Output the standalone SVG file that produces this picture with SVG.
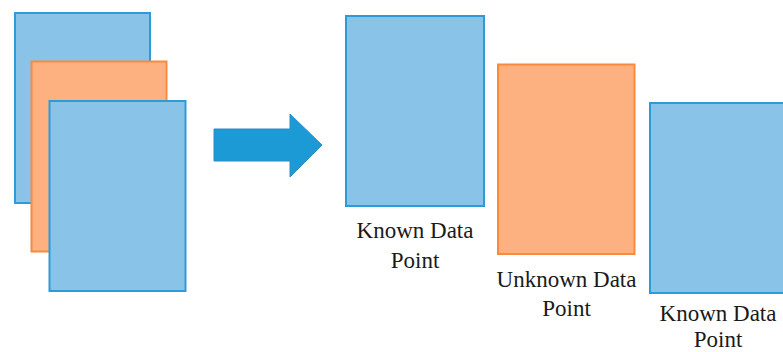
<svg xmlns="http://www.w3.org/2000/svg" width="783" height="352" viewBox="0 0 783 352">
  <style>
    .known { fill: #89c3e7; stroke: #2e9bd8; stroke-width: 2; }
    .unknown { fill: #fdb180; stroke: #fa8a3c; stroke-width: 2; }
    .label { font-family: 'Liberation Serif', 'DejaVu Serif', serif; font-size: 23px; fill: #1a1a1a; text-anchor: middle; }
  </style>
  <rect width="783" height="352" fill="#ffffff"/>

  <!-- stacked input data points -->
  <g id="stack">
    <rect id="stack-back" class="known" x="15" y="13" width="135" height="190"/>
    <rect id="stack-mid" class="unknown" x="31.5" y="61.5" width="135" height="190"/>
    <rect id="stack-front" class="known" x="49.5" y="101" width="136" height="190"/>
  </g>

  <!-- transformation arrow -->
  <g id="connectors">
    <path id="arrow" d="M214,129 L290,129 L290,114 L322,145 L290,177 L290,161 L214,161 Z" fill="#1b9ad6" stroke="#2a8cc6" stroke-width="1"/>
  </g>

  <g id="known-1">
    <rect class="known" x="346" y="16" width="138" height="190"/>
    <text class="label" x="415" y="238" font-family="Liberation Serif, serif">Known Data</text>
    <text class="label" x="415" y="268" font-family="Liberation Serif, serif">Point</text>
  </g>

  <g id="unknown">
    <rect class="unknown" x="498" y="64.5" width="136.5" height="189.5"/>
    <text class="label" x="566.5" y="287" font-family="Liberation Serif, serif">Unknown Data</text>
    <text class="label" x="566.5" y="316" font-family="Liberation Serif, serif">Point</text>
  </g>

  <g id="known-2">
    <rect class="known" x="650" y="103" width="140" height="190"/>
    <text class="label" x="718" y="321" font-family="Liberation Serif, serif">Known Data</text>
    <text class="label" x="718" y="347" font-family="Liberation Serif, serif">Point</text>
  </g>
</svg>
